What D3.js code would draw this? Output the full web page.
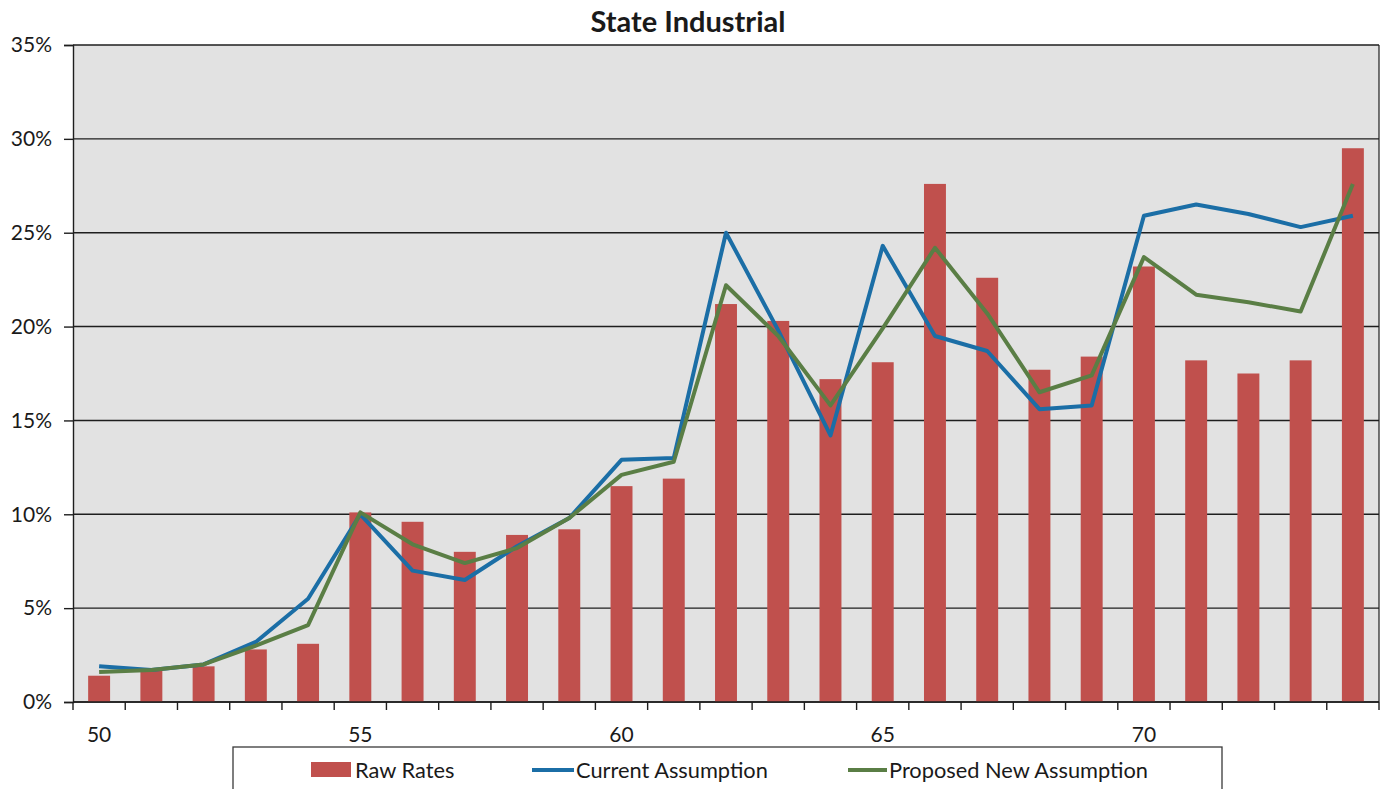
<!DOCTYPE html>
<html>
<head>
<meta charset="utf-8">
<script src="https://cdn.jsdelivr.net/npm/d3@7"></script>
<style>
  html, body { margin: 0; padding: 0; background: #ffffff; }
  svg { display: block; }
  text { font-family: Lato, "Open Sans", sans-serif; fill: #1a1a1a; }
</style>
</head>
<body>
<svg id="chart" width="1383" height="789"></svg>
<script>
// Ages on the horizontal axis
const ages = [50, 51, 52, 53, 54, 55, 56, 57, 58, 59, 60, 61, 62, 63, 64, 65, 66, 67, 68, 69, 70, 71, 72, 73, 74];

// Observed rates (bars)
const rawRates = [0.014, 0.018, 0.019, 0.028, 0.031, 0.101, 0.096, 0.080, 0.089, 0.092, 0.115, 0.119,
                  0.212, 0.203, 0.172, 0.181, 0.276, 0.226, 0.177, 0.184, 0.232, 0.182, 0.175, 0.182, 0.295];

// Rates currently assumed
const currentAssumption = [0.019, 0.017, 0.020, 0.032, 0.055, 0.100, 0.070, 0.065, 0.083, 0.098, 0.129, 0.130,
                           0.250, 0.198, 0.142, 0.243, 0.195, 0.187, 0.156, 0.158, 0.259, 0.265, 0.260, 0.253, 0.259];

// Rates proposed as the new assumption
const proposedAssumption = [0.016, 0.017, 0.020, 0.030, 0.041, 0.101, 0.084, 0.074, 0.082, 0.098, 0.121, 0.128,
                            0.222, 0.195, 0.158, 0.199, 0.242, 0.207, 0.165, 0.174, 0.237, 0.217, 0.213, 0.208, 0.276];

// Axis ticks
const yTicks = [0, 0.05, 0.10, 0.15, 0.20, 0.25, 0.30, 0.35];
const xLabelAges = [50, 55, 60, 65, 70];

const seriesNames = ["Raw Rates", "Current Assumption", "Proposed New Assumption"];
const colors = { bar: "#C0504D", current: "#1B6EA6", proposed: "#5A7E45" };

const svg = d3.select("#chart");
const plot = { left: 73, right: 1379, top: 45, bottom: 702 };

const x = d3.scaleBand()
  .domain(ages)
  .range([plot.left, plot.right])
  .paddingInner(0.58)
  .paddingOuter(0.29);

const y = d3.scaleLinear()
  .domain([0, 0.35])
  .range([plot.bottom, plot.top]);

const cx = d => x(d) + x.bandwidth() / 2;

// Plot background
svg.append("rect")
  .attr("x", plot.left).attr("y", plot.top)
  .attr("width", plot.right - plot.left).attr("height", plot.bottom - plot.top)
  .attr("fill", "#E2E2E2");

// Horizontal gridlines
svg.append("g")
  .selectAll("line")
  .data(yTicks)
  .join("line")
  .attr("x1", plot.left).attr("x2", plot.right)
  .attr("y1", d => y(d)).attr("y2", d => y(d))
  .attr("stroke", "#1e1e1e").attr("stroke-width", 1.4);

// Right border of the plot
svg.append("line")
  .attr("x1", plot.right).attr("x2", plot.right)
  .attr("y1", plot.top).attr("y2", plot.bottom)
  .attr("stroke", "#1e1e1e").attr("stroke-width", 1.2);

// Bars
svg.append("g")
  .selectAll("rect")
  .data(ages)
  .join("rect")
  .attr("x", d => x(d))
  .attr("width", x.bandwidth())
  .attr("y", (d, i) => y(rawRates[i]))
  .attr("height", (d, i) => y(0) - y(rawRates[i]))
  .attr("fill", colors.bar);

// Lines
const line = d3.line()
  .x(d => cx(d.age))
  .y(d => y(d.v));

svg.append("path")
  .datum(ages.map((a, i) => ({ age: a, v: currentAssumption[i] })))
  .attr("d", line)
  .attr("fill", "none")
  .attr("stroke", colors.current)
  .attr("stroke-width", 4)
  .attr("stroke-linejoin", "round");

svg.append("path")
  .datum(ages.map((a, i) => ({ age: a, v: proposedAssumption[i] })))
  .attr("d", line)
  .attr("fill", "none")
  .attr("stroke", colors.proposed)
  .attr("stroke-width", 4)
  .attr("stroke-linejoin", "round");

// Y axis
const yAxis = svg.append("g")
  .attr("transform", `translate(${plot.left},0)`)
  .call(d3.axisLeft(y).tickValues(yTicks).tickFormat(d3.format(".0%")).tickSize(9).tickPadding(12));
yAxis.select(".domain").attr("stroke", "#1e1e1e").attr("stroke-width", 1.4);
yAxis.selectAll(".tick line").attr("stroke", "#1e1e1e").attr("stroke-width", 1.4);
yAxis.selectAll(".tick text")
  .attr("font-size", 21)
  .style("font-family", "Lato, 'Open Sans', sans-serif")
  .attr("fill", "#1a1a1a");

// X axis: ticks on category boundaries, labels every fifth age
const boundaries = ages.map(a => x(a) - x.step() * x.paddingInner() / 2).concat([plot.right]);
const xAxis = svg.append("g");
xAxis.append("line")
  .attr("x1", plot.left).attr("x2", plot.right)
  .attr("y1", plot.bottom).attr("y2", plot.bottom)
  .attr("stroke", "#1e1e1e").attr("stroke-width", 1.4);
xAxis.selectAll("line.tick")
  .data(boundaries)
  .join("line")
  .attr("class", "tick")
  .attr("x1", d => d).attr("x2", d => d)
  .attr("y1", plot.bottom).attr("y2", plot.bottom + 8)
  .attr("stroke", "#1e1e1e").attr("stroke-width", 1.4);
xAxis.selectAll("text")
  .data(xLabelAges)
  .join("text")
  .attr("x", d => cx(d))
  .attr("y", 742)
  .attr("text-anchor", "middle")
  .attr("font-size", 21)
  .text(d => d);

// Title
svg.append("text")
  .attr("x", 688)
  .attr("y", 32)
  .attr("text-anchor", "middle")
  .attr("font-size", 29)
  .attr("font-weight", "bold")
  .text("State Industrial");

// Legend
const legend = svg.append("g");
legend.append("rect")
  .attr("x", 233).attr("y", 747)
  .attr("width", 989).attr("height", 60)
  .attr("fill", "#ffffff")
  .attr("stroke", "#3a3a3a").attr("stroke-width", 1.3);

const legendItems = [
  { name: seriesNames[0], type: "bar", color: colors.bar, x0: 311, x1: 351, tx: 355 },
  { name: seriesNames[1], type: "line", color: colors.current, x0: 532, x1: 574, tx: 576 },
  { name: seriesNames[2], type: "line", color: colors.proposed, x0: 848, x1: 887, tx: 889 }
];
legendItems.forEach(it => {
  if (it.type === "bar") {
    legend.append("rect")
      .attr("x", it.x0).attr("y", 762)
      .attr("width", it.x1 - it.x0).attr("height", 15)
      .attr("fill", it.color);
  } else {
    legend.append("line")
      .attr("x1", it.x0).attr("x2", it.x1)
      .attr("y1", 770).attr("y2", 770)
      .attr("stroke", it.color).attr("stroke-width", 4);
  }
  legend.append("text")
    .attr("x", it.tx).attr("y", 778)
    .attr("font-size", 21.8)
    .text(it.name);
});
</script>
</body>
</html>
